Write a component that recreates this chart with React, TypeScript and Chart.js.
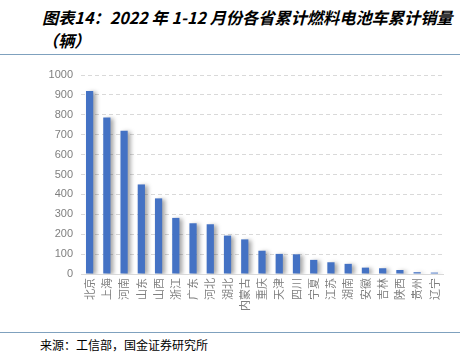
import React, { useEffect, useRef } from "react";
import { Chart, registerables } from "chart.js";

Chart.register(...registerables);

const provinces = ["北京", "上海", "河南", "山东", "山西", "浙江", "广东", "河北", "湖北", "内蒙古", "重庆", "天津", "四川", "宁夏", "江苏", "湖南", "安徽", "吉林", "陕西", "贵州", "辽宁"];
const sales = [920, 786, 720, 450, 380, 282, 255, 250, 193, 174, 117, 101, 99, 71, 59, 51, 32, 29, 20, 9, 7];
const yTicks = [0, 100, 200, 300, 400, 500, 600, 700, 800, 900, 1000];

const titleText = "图表14：2022 年 1-12 月份各省累计燃料电池车累计销量（辆）";
const sourceText = "来源：工信部，国金证券研究所";

const shadowPlugin = {
  id: "barShadow",
  beforeDatasetsDraw(chart: any) {
    const ctx = chart.ctx;
    ctx.save();
    ctx.shadowColor = "rgba(0,0,0,0.35)";
    ctx.shadowBlur = 4;
    ctx.shadowOffsetX = 3;
    ctx.shadowOffsetY = 1;
  },
  afterDatasetsDraw(chart: any) {
    chart.ctx.restore();
  },
};

export default function App() {
  const ref = useRef<HTMLCanvasElement>(null);
  useEffect(() => {
    document.body.style.margin = "0";
    const chart = new Chart(ref.current!, {
      type: "bar",
      data: {
        labels: provinces,
        datasets: [
          {
            data: sales,
            backgroundColor: "#4472C4",
            barPercentage: 0.42,
            categoryPercentage: 1,
          },
        ],
      },
      plugins: [shadowPlugin],
      options: {
        animation: false,
        responsive: false,
        maintainAspectRatio: false,
        layout: { padding: { left: 0, right: 28, top: 15, bottom: 0 } },
        plugins: { legend: { display: false }, tooltip: { enabled: false } },
        scales: {
          x: {
            grid: { display: false, drawTicks: false },
            border: { display: true, color: "#D9D9D9" },
            ticks: {
              minRotation: 90,
              maxRotation: 90,
              autoSkip: false,
              color: "#7F7F7F",
              padding: 4,
              font: { family: "'Noto Sans CJK SC', sans-serif", size: 11 },
            },
            afterFit(scale: any) {
              scale.height = 56;
            },
          },
          y: {
            min: 0,
            max: 1000,
            afterBuildTicks(scale: any) {
              scale.ticks = yTicks.map((v) => ({ value: v }));
            },
            grid: { color: "#D9D9D9", drawTicks: false, lineWidth: 1 },
            border: { display: true, width: 0, color: "rgba(0,0,0,0)", dash: [4, 3] },
            ticks: {
              color: "#7F7F7F",
              padding: 8,
              callback: (v: any) => String(v),
              font: { family: "'Liberation Sans', Arial, sans-serif", size: 11 },
            },
            afterFit(scale: any) {
              scale.width = 81;
            },
          },
        },
      } as any,
    });
    return () => chart.destroy();
  }, []);

  return (
    <div style={{ position: "relative", width: 471, height: 355, background: "#fff", overflow: "hidden" }}>
      <div
        style={{
          position: "absolute",
          left: 42,
          top: 6,
          width: 425,
          fontFamily: "'Noto Sans CJK SC', sans-serif",
          fontWeight: "bold",
          fontStyle: "italic",
          fontSize: 16.2,
          lineHeight: "23px",
          color: "#000",
        }}
      >
        {titleText}
      </div>
      <div style={{ position: "absolute", left: 0, top: 54, width: 460, height: 1, background: "#7FA1BE" }} />
      <div style={{ position: "absolute", left: 0, top: 60 }}>
        <canvas ref={ref} width={471} height={270} style={{ width: 471, height: 270, display: "block" }} />
      </div>
      <div style={{ position: "absolute", left: 0, top: 332, width: 460, height: 1, background: "#7FA1BE" }} />
      <div
        style={{
          position: "absolute",
          left: 40,
          top: 337,
          fontFamily: "'Noto Sans CJK SC', serif",
          fontSize: 12,
          lineHeight: "16px",
          color: "#000",
        }}
      >
        {sourceText}
      </div>
    </div>
  );
}
